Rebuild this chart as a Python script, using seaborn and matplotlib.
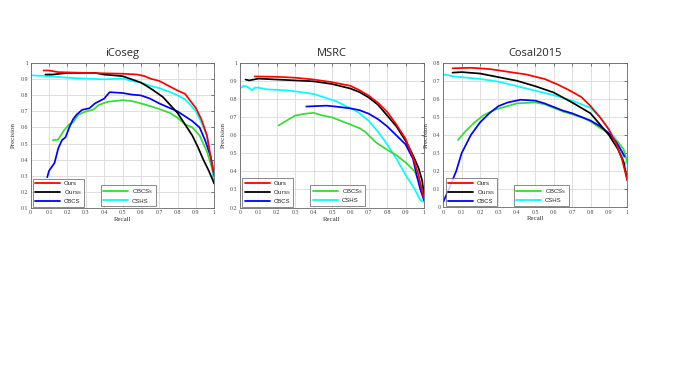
import matplotlib
matplotlib.use("Agg")
import matplotlib.pyplot as plt
from matplotlib.lines import Line2D
from matplotlib.ticker import FuncFormatter, MultipleLocator
import numpy as np
import pandas as pd
import seaborn as sns

# ---------------- data ----------------
titles = ["iCoseg", "MSRC", "Cosal2015"]
methods = ["Ours", "Ours_S", "CBCS", "CBCS_S", "CSHS"]
labels = {"Ours": "Ours", "Ours_S": "Ours$_\\mathregular{S}$", "CBCS": "CBCS",
          "CBCS_S": "CBCS$_\\mathregular{S}$", "CSHS": "CSHS"}
ylims = [(0.1, 1.0), (0.2, 1.0), (0.0, 0.8)]

# iCoseg
ic_ours_r = [0.07, 0.10, 0.15, 0.30, 0.50, 0.58, 0.62, 0.65, 0.70, 0.75, 0.80, 0.84, 0.86, 0.90, 0.93, 0.96, 0.98, 1.00]
ic_ours_p = [0.955, 0.955, 0.945, 0.94, 0.935, 0.93, 0.92, 0.905, 0.89, 0.86, 0.83, 0.81, 0.78, 0.72, 0.65, 0.55, 0.42, 0.30]
ic_ourss_r = [0.08, 0.12, 0.20, 0.35, 0.40, 0.50, 0.55, 0.60, 0.63, 0.67, 0.72, 0.76, 0.80, 0.84, 0.88, 0.91, 0.94, 0.97, 1.00]
ic_ourss_p = [0.93, 0.93, 0.94, 0.94, 0.93, 0.92, 0.90, 0.88, 0.86, 0.83, 0.79, 0.74, 0.69, 0.62, 0.55, 0.48, 0.40, 0.33, 0.25]
ic_cbcs_r = [0.09, 0.10, 0.13, 0.15, 0.17, 0.19, 0.21, 0.23, 0.25, 0.28, 0.32, 0.35, 0.40, 0.43, 0.50, 0.55, 0.60, 0.65, 0.70, 0.76, 0.80, 0.84, 0.88, 0.92, 0.95, 0.98, 1.00]
ic_cbcs_p = [0.29, 0.33, 0.38, 0.47, 0.52, 0.54, 0.60, 0.65, 0.68, 0.71, 0.72, 0.75, 0.78, 0.82, 0.815, 0.805, 0.80, 0.78, 0.75, 0.72, 0.70, 0.67, 0.64, 0.60, 0.52, 0.42, 0.30]
ic_cbcss_r = [0.12, 0.15, 0.18, 0.21, 0.23, 0.26, 0.30, 0.34, 0.37, 0.42, 0.50, 0.55, 0.60, 0.66, 0.70, 0.76, 0.80, 0.84, 0.88, 0.92, 0.96, 1.00]
ic_cbcss_p = [0.52, 0.525, 0.58, 0.62, 0.63, 0.68, 0.70, 0.71, 0.74, 0.76, 0.77, 0.765, 0.75, 0.73, 0.715, 0.69, 0.66, 0.62, 0.60, 0.55, 0.45, 0.30]
ic_cshs_r = [0.00, 0.10, 0.20, 0.30, 0.40, 0.50, 0.55, 0.60, 0.65, 0.70, 0.76, 0.80, 0.84, 0.87, 0.90, 0.93, 0.96, 0.98, 1.00]
ic_cshs_p = [0.925, 0.92, 0.91, 0.905, 0.90, 0.905, 0.89, 0.88, 0.86, 0.845, 0.82, 0.80, 0.775, 0.74, 0.70, 0.63, 0.55, 0.40, 0.25]

# MSRC
ms_ours_r = [0.08, 0.20, 0.30, 0.40, 0.50, 0.60, 0.65, 0.70, 0.75, 0.80, 0.85, 0.90, 0.94, 0.97, 1.00]
ms_ours_p = [0.927, 0.925, 0.92, 0.91, 0.895, 0.875, 0.85, 0.82, 0.78, 0.73, 0.66, 0.58, 0.48, 0.38, 0.25]
ms_ourss_r = [0.03, 0.05, 0.10, 0.20, 0.30, 0.40, 0.50, 0.60, 0.65, 0.70, 0.75, 0.80, 0.85, 0.90, 0.94, 0.97, 0.99, 1.00]
ms_ourss_p = [0.91, 0.905, 0.915, 0.91, 0.905, 0.90, 0.885, 0.86, 0.84, 0.81, 0.77, 0.71, 0.65, 0.57, 0.49, 0.42, 0.35, 0.27]
ms_cbcs_r = [0.36, 0.40, 0.47, 0.52, 0.60, 0.65, 0.70, 0.75, 0.80, 0.85, 0.90, 0.94, 0.96, 0.98, 1.00]
ms_cbcs_p = [0.76, 0.762, 0.765, 0.76, 0.75, 0.74, 0.72, 0.69, 0.65, 0.60, 0.55, 0.47, 0.38, 0.30, 0.24]
ms_cbcss_r = [0.21, 0.25, 0.30, 0.35, 0.40, 0.45, 0.50, 0.55, 0.60, 0.65, 0.68, 0.70, 0.74, 0.80, 0.85, 0.90, 0.95, 0.97, 1.00]
ms_cbcss_p = [0.655, 0.68, 0.71, 0.72, 0.725, 0.71, 0.70, 0.68, 0.66, 0.64, 0.62, 0.60, 0.56, 0.52, 0.49, 0.45, 0.40, 0.35, 0.27]
ms_cshs_r = [0.00, 0.02, 0.04, 0.065, 0.08, 0.10, 0.15, 0.25, 0.33, 0.40, 0.46, 0.52, 0.58, 0.64, 0.70, 0.75, 0.80, 0.85, 0.90, 0.95, 0.98, 1.00]
ms_cshs_p = [0.86, 0.875, 0.87, 0.85, 0.865, 0.865, 0.855, 0.85, 0.84, 0.83, 0.81, 0.79, 0.76, 0.73, 0.68, 0.62, 0.55, 0.47, 0.38, 0.30, 0.24, 0.23]

# Cosal2015
co_ours_r = [0.05, 0.15, 0.25, 0.35, 0.45, 0.55, 0.62, 0.68, 0.75, 0.80, 0.85, 0.90, 0.94, 0.97, 1.00]
co_ours_p = [0.769, 0.772, 0.765, 0.75, 0.735, 0.71, 0.68, 0.65, 0.61, 0.56, 0.50, 0.43, 0.35, 0.27, 0.15]
co_ourss_r = [0.05, 0.10, 0.20, 0.30, 0.40, 0.50, 0.60, 0.70, 0.80, 0.85, 0.90, 0.95, 0.98, 1.00]
co_ourss_p = [0.745, 0.748, 0.74, 0.72, 0.70, 0.67, 0.635, 0.58, 0.52, 0.46, 0.40, 0.32, 0.25, 0.15]
co_cbcs_r = [0.00, 0.03, 0.07, 0.10, 0.15, 0.20, 0.25, 0.30, 0.35, 0.42, 0.50, 0.55, 0.60, 0.65, 0.70, 0.75, 0.80, 0.85, 0.90, 0.94, 0.97, 0.985]
co_cbcs_p = [0.03, 0.10, 0.20, 0.30, 0.40, 0.47, 0.52, 0.56, 0.58, 0.595, 0.59, 0.575, 0.555, 0.535, 0.52, 0.50, 0.48, 0.45, 0.41, 0.36, 0.31, 0.28]
co_cbcss_r = [0.08, 0.12, 0.17, 0.22, 0.28, 0.35, 0.40, 0.50, 0.55, 0.60, 0.65, 0.70, 0.77, 0.80, 0.85, 0.90, 0.95, 0.98, 1.00]
co_cbcss_p = [0.372, 0.42, 0.47, 0.51, 0.54, 0.56, 0.575, 0.58, 0.57, 0.55, 0.53, 0.515, 0.49, 0.475, 0.44, 0.41, 0.36, 0.32, 0.25]
co_cshs_r = [0.00, 0.01, 0.05, 0.10, 0.20, 0.30, 0.40, 0.50, 0.60, 0.70, 0.80, 0.86, 0.90, 0.94, 0.97, 0.985, 1.00]
co_cshs_p = [0.73, 0.735, 0.725, 0.72, 0.71, 0.695, 0.67, 0.645, 0.62, 0.59, 0.55, 0.49, 0.43, 0.37, 0.30, 0.23, 0.26]

datasets = [
    {"Ours": (ic_ours_r, ic_ours_p), "Ours_S": (ic_ourss_r, ic_ourss_p), "CBCS": (ic_cbcs_r, ic_cbcs_p),
     "CBCS_S": (ic_cbcss_r, ic_cbcss_p), "CSHS": (ic_cshs_r, ic_cshs_p)},
    {"Ours": (ms_ours_r, ms_ours_p), "Ours_S": (ms_ourss_r, ms_ourss_p), "CBCS": (ms_cbcs_r, ms_cbcs_p),
     "CBCS_S": (ms_cbcss_r, ms_cbcss_p), "CSHS": (ms_cshs_r, ms_cshs_p)},
    {"Ours": (co_ours_r, co_ours_p), "Ours_S": (co_ourss_r, co_ourss_p), "CBCS": (co_cbcs_r, co_cbcs_p),
     "CBCS_S": (co_cbcss_r, co_cbcss_p), "CSHS": (co_cshs_r, co_cshs_p)},
]

colors = {"Ours": "#ff0000", "Ours_S": "#000000", "CBCS": "#0000ff", "CBCS_S": "#33dd33", "CSHS": "#00ffff"}
draw_order = ["CSHS", "CBCS_S", "CBCS", "Ours_S", "Ours"]

# ---------------- figure ----------------
sns.set_style("white")
plt.rcParams["font.family"] = ["Liberation Serif", "DejaVu Serif"]

W, H = 677, 379
fig = plt.figure(figsize=(W / 100, H / 100), dpi=100)
boxes = [(30.7, 63.3, 214.3, 207.7), (240.0, 63.3, 424.0, 207.5), (443.3, 62.7, 627.3, 207.3)]

fmt = FuncFormatter(lambda v, p: f"{v:g}")

for i, (title, data, yl, bx) in enumerate(zip(titles, datasets, ylims, boxes)):
    x0, y0, x1, y1 = bx
    ax = fig.add_axes([x0 / W, 1 - y1 / H, (x1 - x0) / W, (y1 - y0) / H])
    rows = []
    for m in draw_order:
        r, p = data[m]
        for rr, pp in zip(r, p):
            rows.append({"Recall": rr, "Precision": pp, "Method": m})
    df = pd.DataFrame(rows)
    for m in draw_order:
        sns.lineplot(data=df[df["Method"] == m], x="Recall", y="Precision", color=colors[m],
                     sort=False, estimator=None, linewidth=1.25, ax=ax, legend=False)
    ax.set_xlim(0, 1)
    ax.set_ylim(*yl)
    ax.xaxis.set_major_locator(MultipleLocator(0.1))
    ax.yaxis.set_major_locator(MultipleLocator(0.1))
    ax.xaxis.set_major_formatter(fmt)
    ax.yaxis.set_major_formatter(fmt)
    ax.grid(True, color="#d9d9d9", linewidth=0.6)
    ax.set_axisbelow(True)
    ax.tick_params(direction="in", length=2, width=0.5, labelsize=4.2, colors="#444444",
                   top=True, right=True, pad=2)
    for s in ax.spines.values():
        s.set_color("#666666")
        s.set_linewidth(0.6)
    ax.set_xlabel("Recall", fontsize=5, color="#333333", labelpad=1)
    ax.set_ylabel("Precision", fontsize=5, color="#333333", labelpad=3)
    ax.set_title(title, fontsize=8, family=["Open Sans", "DejaVu Sans"], pad=5)

    def handles(ms):
        return [Line2D([0], [0], color=colors[m], lw=1.3, label=labels[m]) for m in ms]

    leg_kw = dict(frameon=True, fancybox=False, handlelength=4.2, handletextpad=0.6,
                  borderpad=0.4, labelspacing=0.35, edgecolor="#555555", borderaxespad=0.0,
                  prop={"family": ["Liberation Sans", "DejaVu Sans"], "size": 4.3})
    l1 = ax.legend(handles=handles(["Ours", "Ours_S", "CBCS"]), loc="lower left",
                   bbox_to_anchor=(0.012, 0.006), **leg_kw)
    l1.get_frame().set_linewidth(0.6)
    ax.add_artist(l1)
    l2 = ax.legend(handles=handles(["CBCS_S", "CSHS"]), loc="lower left",
                   bbox_to_anchor=(0.383, 0.012), **leg_kw)
    l2.get_frame().set_linewidth(0.6)

fig.savefig("out.png", dpi=100)
